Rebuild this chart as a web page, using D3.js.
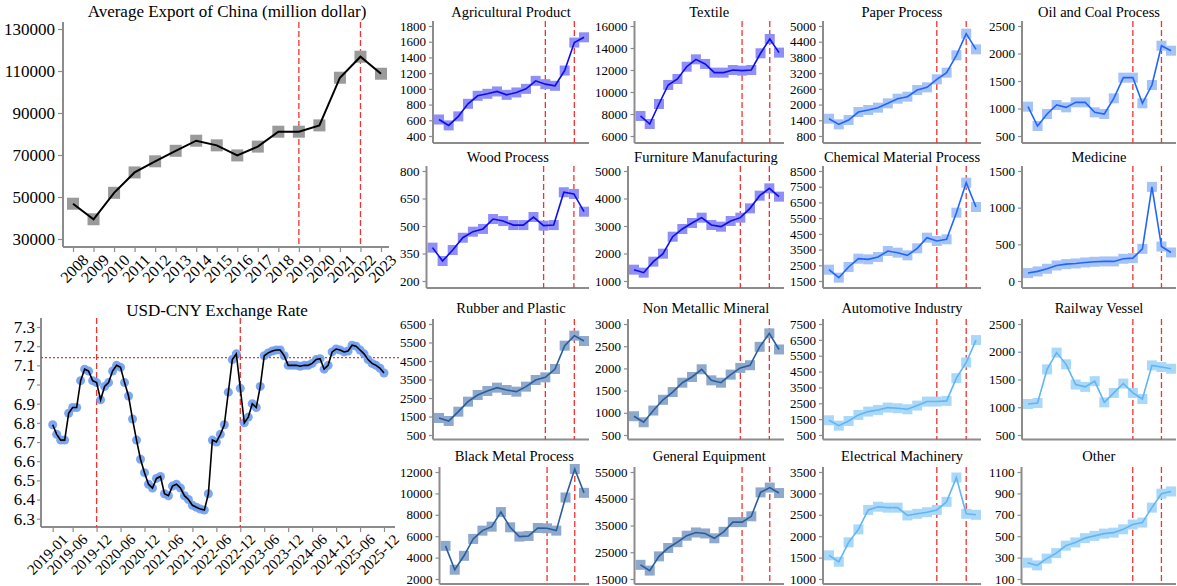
<!DOCTYPE html>
<meta charset="utf-8">
<style>
body { margin: 0; background: #fff; }
svg { display: block; }
svg text { font-family: "Liberation Serif", "Times New Roman", serif; }
.axis-line { stroke: #8c8c8c; stroke-width: 2; }
.tick line { stroke: #8c8c8c; stroke-width: 1.2; }
.tick text { fill: #000; }
.cut { stroke: #ee3333; stroke-width: 1.3; stroke-dasharray: 6,3; }
</style>
<body>
<svg width="1177" height="586"></svg>
<script src="https://cdn.jsdelivr.net/npm/d3@7/dist/d3.min.js"></script>
<script>

// ---- data ----
var years = [2008, 2009, 2010, 2011, 2012, 2013, 2014, 2015, 2016, 2017, 2018, 2019, 2020, 2021, 2022, 2023];
var cutYears = [2019, 2022];

var exportAvg = [46800, 39400, 52000, 61700, 67000, 72000, 76800, 74600, 69800, 74000, 81100, 81100, 84100, 106800, 116800, 108700];
var exportTicks = [30000, 50000, 70000, 90000, 110000, 130000];

// USD-CNY monthly, 2019-01 .. 2025-12
var rate = [6.79, 6.74, 6.71, 6.71, 6.85, 6.88, 6.88, 7.02, 7.08, 7.07, 7.02, 7.01,
            6.92, 6.99, 7.01, 7.07, 7.10, 7.09, 7.01, 6.94, 6.82, 6.71, 6.61, 6.54,
            6.48, 6.46, 6.51, 6.52, 6.43, 6.42, 6.47, 6.48, 6.46, 6.42, 6.40, 6.37,
            6.36, 6.35, 6.345, 6.43, 6.71, 6.70, 6.74, 6.79, 6.96, 7.13, 7.16, 6.98,
            6.80, 6.83, 6.90, 6.88, 6.99, 7.15, 7.165, 7.175, 7.18, 7.18, 7.15, 7.10,
            7.10, 7.10, 7.095, 7.10, 7.10, 7.11, 7.13, 7.135, 7.08, 7.10, 7.17, 7.185,
            7.18, 7.17, 7.175, 7.205, 7.20, 7.18, 7.16, 7.13, 7.11, 7.10, 7.085, 7.06];
var rateTicks = [6.3, 6.4, 6.5, 6.6, 6.7, 6.8, 6.9, 7, 7.1, 7.2, 7.3];
var rateMonthTicks = ["2019-01", "2019-06", "2019-12", "2020-06", "2020-12", "2021-06", "2021-12",
                      "2022-06", "2022-12", "2023-06", "2023-12", "2024-06", "2024-12", "2025-06", "2025-12"];
var rateCuts = ["2019-12", "2022-12"];
var rateRef = 7.14;

var sectorNames = ["Agricultural Product", "Textile", "Paper Process", "Oil and Coal Process",
                   "Wood Process", "Furniture Manufacturing", "Chemical Material Process", "Medicine",
                   "Rubber and Plastic", "Non Metallic Mineral", "Automotive Industry", "Railway Vessel",
                   "Black Metal Process", "General Equipment", "Electrical Machinery", "Other"];

var agricultural = [610, 535, 650, 810, 912, 937, 967, 924, 954, 1000, 1102, 1060, 1039, 1233, 1589, 1656];
var textile = [7820, 7090, 8910, 10640, 11180, 12300, 12970, 12550, 11760, 11760, 12000, 11940, 12000, 13520, 14820, 13580];
var paper = [1460, 1245, 1410, 1716, 1793, 1882, 2047, 2225, 2302, 2556, 2658, 2964, 3218, 3880, 4707, 4109];
var oilCoal = [1033, 682, 900, 1064, 1021, 1112, 1112, 930, 900, 1185, 1561, 1561, 1094, 1427, 2142, 2051];
var wood = [382, 309, 369, 436, 469, 484, 538, 527, 505, 505, 549, 502, 505, 684, 675, 578];
var furniture = [1412, 1303, 1703, 1994, 2612, 2891, 3109, 3303, 3036, 2976, 3182, 3303, 3642, 4103, 4370, 4067];
var chemical = [2221, 1712, 2391, 2921, 2879, 3027, 3409, 3303, 3133, 3579, 4257, 4045, 4151, 5848, 7757, 6209];
var medicine = [108, 131, 167, 212, 230, 239, 253, 262, 267, 267, 303, 312, 438, 1283, 470, 389];
var rubber = [1420, 1257, 1761, 2302, 2662, 2879, 3059, 2933, 2843, 3113, 3473, 3617, 4068, 5329, 5870, 5582];
var nonMetallic = [923, 787, 1051, 1293, 1467, 1678, 1807, 1980, 1731, 1678, 1860, 2011, 2071, 2486, 2789, 2426];
var automotive = [1428, 1090, 1385, 1765, 1976, 2081, 2229, 2187, 2123, 2355, 2608, 2608, 2650, 4084, 5074, 6487];
var railway = [1058, 1076, 1682, 1985, 1773, 1409, 1367, 1470, 1088, 1258, 1427, 1258, 1148, 1754, 1724, 1694];
var blackMetal = [5096, 2867, 4167, 5746, 6520, 6892, 8254, 6830, 5963, 6025, 6768, 6737, 6520, 9616, 12279, 10050];
var generalEquip = [20300, 18141, 23456, 26597, 28771, 31187, 32395, 32033, 30221, 32637, 36261, 36261, 38435, 47374, 49186, 47133];
var electrical = [1553, 1402, 1856, 2159, 2614, 2689, 2667, 2667, 2485, 2523, 2561, 2614, 2803, 3371, 2523, 2500];
var other = [252, 227, 291, 342, 412, 442, 482, 503, 524, 533, 564, 609, 627, 767, 897, 918];

var sectorValues = [agricultural, textile, paper, oilCoal, wood, furniture, chemical, medicine,
                    rubber, nonMetallic, automotive, railway, blackMetal, generalEquip, electrical, other];

var sectorTicks = [
  [400, 600, 800, 1000, 1200, 1400, 1600, 1800],
  [6000, 8000, 10000, 12000, 14000, 16000],
  [800, 1400, 2000, 2600, 3200, 3800, 4400, 5000],
  [500, 1000, 1500, 2000, 2500],
  [200, 350, 500, 650, 800],
  [1000, 2000, 3000, 4000, 5000],
  [1500, 2500, 3500, 4500, 5500, 6500, 7500, 8500],
  [0, 500, 1000, 1500],
  [500, 1500, 2500, 3500, 4500, 5500, 6500],
  [500, 1000, 1500, 2000, 2500, 3000],
  [500, 1500, 2500, 3500, 4500, 5500, 6500, 7500],
  [500, 1000, 1500, 2000, 2500],
  [2000, 4000, 6000, 8000, 10000, 12000],
  [15000, 25000, 35000, 45000, 55000],
  [1000, 1500, 2000, 2500, 3000, 3500],
  [100, 300, 500, 700, 900, 1100]
];

// ---- styles ----
var palettes = {
  blue:   { line: "#0c0cf2", fill: "#8f8ff6" },
  bright: { line: "#1f66ff", fill: "#a6c3f6" },
  steel:  { line: "#2a5d9c", fill: "#8ea9cc" },
  sky:    { line: "#5fb5f5", fill: "#aad8f8" }
};
// which palette each row/column-pair uses
var rowPalettes = [["blue", "bright"], ["blue", "bright"], ["steel", "sky"], ["steel", "sky"]];

var svg = d3.select("svg");

function cleanAxis(g, size) {
  g.select(".domain").remove();
  g.attr("font-family", null);
  g.selectAll(".tick text").attr("font-size", size);
}

function vline(g, x, y1, y2, cls) {
  return g.append("line").attr("class", cls)
    .attr("x1", x).attr("x2", x).attr("y1", y1).attr("y2", y2);
}
function hline(g, y, x1, x2, cls) {
  return g.append("line").attr("class", cls)
    .attr("x1", x1).attr("x2", x2).attr("y1", y).attr("y2", y);
}

// ---------------- Average export (top-left) ----------------
(function () {
  var axisX = 63, axisY = 247, top = 22, right = 389;
  var x = d3.scaleLinear().domain([2008, 2023]).range([73, 381]);
  var y = d3.scaleLinear().domain([30000, 130000]).range([239, 29]);
  var g = svg.append("g");

  g.append("text").attr("x", 227).attr("y", 17).attr("text-anchor", "middle")
    .attr("font-size", 17).text("Average Export of China (million dollar)");

  g.append("g").attr("transform", `translate(${axisX},0)`)
    .call(d3.axisLeft(y).tickValues(exportTicks).tickSize(5).tickPadding(3).tickFormat(d3.format("d")))
    .call(a => cleanAxis(a, 17));

  var xa = g.append("g").attr("transform", `translate(0,${axisY})`)
    .call(d3.axisBottom(x).tickValues(years).tickSize(5).tickFormat(d3.format("d")))
    .call(a => cleanAxis(a, 16));
  xa.selectAll(".tick text")
    .attr("text-anchor", "end")
    .attr("transform", "translate(4,2) rotate(-45)")
    .attr("dx", "0").attr("dy", "0.75em").attr("y", 5);

  vline(g, axisX, top, axisY, "axis-line");
  hline(g, axisY, axisX, right, "axis-line");

  cutYears.forEach(c => vline(g, x(c), top, axisY, "cut"));

  g.selectAll("rect.pt").data(exportAvg).enter().append("rect")
    .attr("x", (d, i) => x(years[i]) - 6).attr("y", d => y(d) - 6)
    .attr("width", 12).attr("height", 12).attr("fill", "#9a9a9a");

  g.append("path").datum(exportAvg)
    .attr("fill", "none").attr("stroke", "#000").attr("stroke-width", 2)
    .attr("d", d3.line().x((d, i) => x(years[i])).y(d => y(d)));
})();

// ---------------- USD-CNY (bottom-left) ----------------
(function () {
  var months = [];
  for (var yr = 2019; yr <= 2025; yr++)
    for (var m = 1; m <= 12; m++) months.push(yr + "-" + (m < 10 ? "0" + m : m));

  var axisX = 41, axisY = 527, top = 318, right = 395;
  var x = d3.scaleLinear().domain([0, months.length - 1]).range([52.7, 384]);
  var y = d3.scaleLinear().domain([6.3, 7.3]).range([518.7, 327]);
  var g = svg.append("g");

  g.append("text").attr("x", 217).attr("y", 316).attr("text-anchor", "middle")
    .attr("font-size", 17).text("USD-CNY Exchange Rate");

  g.append("g").attr("transform", `translate(${axisX},0)`)
    .call(d3.axisLeft(y).tickValues(rateTicks).tickSize(4).tickPadding(2).tickFormat(d => String(+d.toFixed(1))))
    .call(a => cleanAxis(a, 17));

  var xa = g.append("g").attr("transform", `translate(0,${axisY})`)
    .call(d3.axisBottom(x).tickValues(rateMonthTicks.map(t => months.indexOf(t)))
      .tickSize(5).tickFormat(i => months[i]))
    .call(a => cleanAxis(a, 15));
  xa.selectAll(".tick text")
    .attr("text-anchor", "end")
    .attr("transform", "translate(4,2) rotate(-45)")
    .attr("dy", "0.75em").attr("y", 5);

  vline(g, axisX, top, axisY, "axis-line");
  hline(g, axisY, axisX, right, "axis-line");

  rateCuts.forEach(c => vline(g, x(months.indexOf(c)), top, axisY, "cut"));
  hline(g, y(rateRef), axisX, 400, "cut").style("stroke-dasharray", "2,2");

  g.selectAll("circle").data(rate).enter().append("circle")
    .attr("cx", (d, i) => x(i)).attr("cy", d => y(d)).attr("r", 4.5)
    .attr("fill", "#6f9df0").attr("fill-opacity", 0.9);

  g.append("path").datum(rate)
    .attr("fill", "none").attr("stroke", "#000").attr("stroke-width", 1.6)
    .attr("d", d3.line().x((d, i) => x(i)).y(d => y(d)));
})();

// ---------------- small multiples ----------------
var cols = [{ left: 400, last: 584 }, { left: 595, last: 779 }, { left: 790, last: 976 }, { left: 989, last: 1171 }];
var rows = [
  { title: 16.5, top: 26, bottom: 136, base: 143 },
  { title: 161.5, top: 171, bottom: 281, base: 288 },
  { title: 313, top: 324, bottom: 435, base: 439.5 },
  { title: 460.5, top: 472, bottom: 579, base: 584 }
];

sectorNames.forEach(function (name, k) {
  var r = Math.floor(k / 4), c = k % 4;
  var row = rows[r], col = cols[c];
  var pal = palettes[rowPalettes[r][c < 2 ? 0 : 1]];
  var ticks = sectorTicks[k];
  var vals = sectorValues[k];
  var g = svg.append("g");

  var y = d3.scaleLinear().domain([ticks[0], ticks[ticks.length - 1]]).range([row.bottom, row.top]);

  // y axis first, at the column's left edge, then shift by the widest label
  var ya = g.append("g")
    .call(d3.axisLeft(y).tickValues(ticks).tickSize(4).tickPadding(3).tickFormat(d3.format("d")))
    .call(a => cleanAxis(a, 13));
  var maxW = d3.max(ya.selectAll(".tick text").nodes(), n => n.getBBox().width);
  var axisX = col.left + maxW + 7;
  ya.attr("transform", `translate(${axisX},0)`);

  var x = d3.scaleLinear().domain([2008, 2023]).range([axisX + 6, col.last]);
  var right = col.last + 5;

  g.append("text").attr("x", (axisX + right) / 2).attr("y", row.title)
    .attr("text-anchor", "middle").attr("font-size", 14.5).text(name);

  vline(g, axisX, row.top - 5, row.base, "axis-line");
  hline(g, row.base, axisX, right, "axis-line");

  cutYears.forEach(cy => vline(g, x(cy), row.top - 5, row.base, "cut"));

  g.selectAll("rect.pt").data(vals).enter().append("rect")
    .attr("x", (d, i) => x(years[i]) - 5).attr("y", d => y(d) - 5)
    .attr("width", 10).attr("height", 10).attr("fill", pal.fill);

  g.append("path").datum(vals)
    .attr("fill", "none").attr("stroke", pal.line).attr("stroke-width", 1.6)
    .attr("d", d3.line().x((d, i) => x(years[i])).y(d => y(d)));
});

</script>
</body>
